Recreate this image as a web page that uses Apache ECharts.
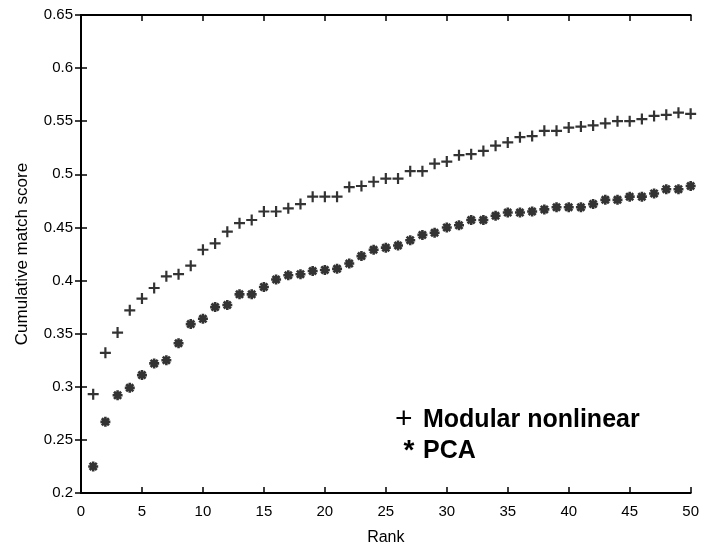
<!DOCTYPE html>
<html>
<head>
<meta charset="utf-8">
<script src="https://cdn.jsdelivr.net/npm/echarts@6/dist/echarts.min.js"></script>
<style>
html,body{margin:0;padding:0;background:#fff;}
#chart{width:702px;height:551px;}
</style>
</head>
<body>
<div id="chart"></div>
<script>
// ---- data ----
var ranks = [];
for (var i = 1; i <= 50; i++) ranks.push(i);

var modularNonlinear = [0.293,0.332,0.351,0.372,0.383,0.393,0.404,0.406,0.414,0.429,
                        0.435,0.446,0.454,0.457,0.465,0.465,0.468,0.472,0.479,0.479,
                        0.479,0.488,0.489,0.493,0.496,0.496,0.503,0.503,0.510,0.512,
                        0.518,0.519,0.522,0.527,0.530,0.535,0.536,0.541,0.541,0.544,
                        0.545,0.546,0.548,0.550,0.550,0.552,0.555,0.556,0.558,0.557];

var pca = [0.225,0.267,0.292,0.299,0.311,0.322,0.325,0.341,0.359,0.364,
           0.375,0.377,0.387,0.387,0.394,0.401,0.405,0.406,0.409,0.410,
           0.411,0.416,0.423,0.429,0.431,0.433,0.438,0.443,0.445,0.450,
           0.452,0.457,0.457,0.461,0.464,0.464,0.465,0.467,0.469,0.469,
           0.469,0.472,0.476,0.476,0.479,0.479,0.482,0.486,0.486,0.489];

var xTicks = [0,5,10,15,20,25,30,35,40,45,50];
var yTicks = [0.2,0.25,0.3,0.35,0.4,0.45,0.5,0.55,0.6,0.65];
var seriesNames = ['Modular nonlinear','PCA'];
var legendMarks = ['+','*'];
var xTitle = 'Rank';
var yTitle = 'Cumulative match score';

// ---- symbols ----
var plusPath = 'path://M4,0h2v4h4v2h-4v4h-2v-4h-4v-2h4z';
var starPath = 'path://M3.7,0H6.3V10H3.7Z M0,3.7H10V6.3H0Z ' +
  'M2.4,0.5L9.5,7.6L7.6,9.5L0.5,2.4Z M7.6,0.5L9.5,2.4L2.4,9.5L0.5,7.6Z';

function pairs(vals){ return vals.map(function(v,i){ return [ranks[i], v]; }); }

var chart = echarts.init(document.getElementById('chart'), null, {renderer:'canvas'});
var font = 'Liberation Sans, Arial, sans-serif';
var axisLineStyle = {color:'#000', width:2};
var tickStyle = {color:'#000', width:1.5};

chart.setOption({
  backgroundColor:'#fff',
  animation:false,
  grid:{left:81, right:10, top:15, bottom:58, containLabel:false},
  legend:{
    orient:'vertical',
    left:385, top:400,
    itemWidth:0, itemHeight:0, itemGap:2,
    icon:'none',
    formatter:function(name){
      var k = seriesNames.indexOf(name);
      return (k === 0 ? '{p|' : '{s|') + legendMarks[k] + '}{t|' + name + '}';
    },
    textStyle:{
      fontFamily:font, fontSize:25, fontWeight:'bold', color:'#000', lineHeight:26,
      rich:{
        p:{fontFamily:font, fontSize:30, fontWeight:'normal', color:'#000', width:28, align:'left', lineHeight:26},
        s:{fontFamily:font, fontSize:28, fontWeight:'bold', color:'#000', width:28, align:'center', lineHeight:26},
        t:{fontFamily:font, fontSize:25, fontWeight:'bold', color:'#000', lineHeight:26}
      }
    },
    data:seriesNames
  },
  xAxis:[{
    type:'value', min:xTicks[0], max:xTicks[xTicks.length-1], interval:5,
    position:'bottom',
    name:xTitle, nameLocation:'middle', nameGap:37,
    nameTextStyle:{fontFamily:font, fontSize:16, color:'#000'},
    axisLine:{show:true, lineStyle:axisLineStyle},
    axisTick:{show:true, inside:true, length:6, lineStyle:tickStyle},
    axisLabel:{fontFamily:font, fontSize:15, color:'#000', margin:11},
    splitLine:{show:false}
  },{
    type:'value', min:xTicks[0], max:xTicks[xTicks.length-1], interval:5,
    position:'top',
    axisLine:{show:true, lineStyle:axisLineStyle},
    axisTick:{show:true, inside:true, length:6, lineStyle:tickStyle},
    axisLabel:{show:false},
    splitLine:{show:false}
  }],
  yAxis:[{
    type:'value', min:yTicks[0], max:yTicks[yTicks.length-1], interval:0.05,
    position:'left',
    name:yTitle, nameLocation:'middle', nameGap:50, nameRotate:90,
    nameTextStyle:{fontFamily:font, fontSize:17, color:'#000'},
    axisLine:{show:true, lineStyle:axisLineStyle},
    axisTick:{show:true, inside:true, length:6, lineStyle:tickStyle},
    axisLabel:{fontFamily:font, fontSize:15, color:'#000', margin:8,
      formatter:function(v){ return String(+v.toFixed(2)); }},
    splitLine:{show:false}
  },{
    type:'value', min:yTicks[0], max:yTicks[yTicks.length-1], interval:0.05,
    position:'right',
    axisLine:{show:true, lineStyle:axisLineStyle},
    axisTick:{show:true, inside:true, length:6, lineStyle:tickStyle},
    axisLabel:{show:false},
    splitLine:{show:false}
  }],
  series:[{
    name:seriesNames[0], type:'scatter', xAxisIndex:0, yAxisIndex:0,
    symbol:plusPath, symbolSize:11,
    itemStyle:{color:'#000'},
    data:pairs(modularNonlinear)
  },{
    name:seriesNames[1], type:'scatter', xAxisIndex:0, yAxisIndex:0,
    symbol:starPath, symbolSize:10,
    itemStyle:{color:'#000'},
    data:pairs(pca)
  }]
});
</script>
</body>
</html>
